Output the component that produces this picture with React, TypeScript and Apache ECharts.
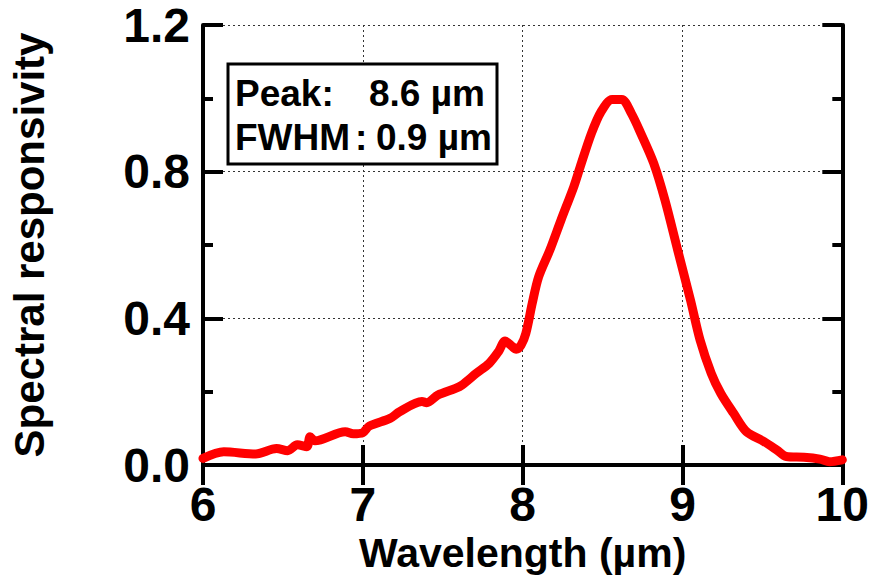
import React, { useEffect, useRef } from "react";
import * as echarts from "echarts";

const wavelength = [6.00, 6.13, 6.33, 6.46, 6.53, 6.59, 6.65, 6.67, 6.70, 6.89, 6.94, 7.00, 7.04, 7.17, 7.23, 7.37, 7.40, 7.47, 7.58, 7.62, 7.71, 7.79, 7.85, 7.89, 7.93, 7.96, 7.99, 8.02, 8.06, 8.10, 8.17, 8.24, 8.32, 8.36, 8.43, 8.49, 8.56, 8.62, 8.68, 8.74, 8.82, 8.89, 8.97, 9.05, 9.11, 9.18, 9.24, 9.32, 9.40, 9.51, 9.59, 9.65, 9.76, 9.86, 9.92, 10.0];
const responsivity = [0.018, 0.036, 0.030, 0.045, 0.039, 0.055, 0.050, 0.077, 0.066, 0.091, 0.085, 0.088, 0.106, 0.127, 0.145, 0.173, 0.170, 0.191, 0.209, 0.218, 0.250, 0.277, 0.31, 0.338, 0.325, 0.316, 0.327, 0.359, 0.441, 0.513, 0.586, 0.668, 0.759, 0.813, 0.904, 0.963, 0.997, 0.997, 0.959, 0.904, 0.823, 0.723, 0.586, 0.450, 0.341, 0.250, 0.195, 0.141, 0.091, 0.064, 0.041, 0.023, 0.021, 0.016, 0.009, 0.014];
const xTicks = [6, 7, 8, 9, 10];
const yTicks = [0.0, 0.4, 0.8, 1.2];
const annotation = { peakLabel: "Peak:", peakValue: "8.6 µm", fwhmLabel: "FWHM", fwhmValue: "0.9 µm" };

const FONT = "'Liberation Sans', Arial, sans-serif";

export default function App() {
  const ref = useRef<HTMLDivElement>(null);
  useEffect(() => {
    if (!ref.current) return;
    const chart = echarts.init(ref.current, null, { renderer: "svg" });
    const axisLine = { show: true, lineStyle: { color: "#000", width: 4 } };
    const split = { show: true, lineStyle: { color: "#333", width: 1, type: [2, 3] as any } };
    const xBase = {
      type: "value" as const,
      min: xTicks[0],
      max: xTicks[xTicks.length - 1],
      interval: 1,
      axisLine,
      axisTick: { show: true, inside: true, length: 20, lineStyle: { color: "#000", width: 4 } },
    };
    const yBase = {
      type: "value" as const,
      min: yTicks[0],
      max: yTicks[yTicks.length - 1],
      interval: 0.4,
      axisLine,
      axisTick: { show: true, inside: true, length: 20, lineStyle: { color: "#000", width: 4 } },
      minorTick: { show: true, splitNumber: 2, length: 10, lineStyle: { color: "#000", width: 4 } },
    };
    chart.setOption({
      animation: false,
      grid: { left: 202, right: 26, top: 25, bottom: 115, containLabel: false },
      xAxis: [
        {
          ...xBase,
          position: "bottom",
          splitLine: split,
          axisLabel: { show: true, margin: 15, color: "#000", fontSize: 48, fontWeight: "bold", fontFamily: FONT,
            formatter: (v: number) => String(v) },
          name: "Wavelength (µm)",
          nameLocation: "middle",
          nameGap: 66,
          nameTextStyle: { color: "#000", fontSize: 41, fontWeight: "bold", fontFamily: FONT },
        },
        { ...xBase, position: "top", splitLine: { show: false }, axisLabel: { show: false } },
      ],
      yAxis: [
        {
          ...yBase,
          position: "left",
          splitLine: split,
          axisLabel: { show: true, margin: 13, color: "#000", fontSize: 48, fontWeight: "bold", fontFamily: FONT,
            formatter: (v: number) => v.toFixed(1) },
          name: "Spectral responsivity",
          nameLocation: "middle",
          nameGap: 153,
          nameTextStyle: { color: "#000", fontSize: 42, fontWeight: "bold", fontFamily: FONT },
        },
        { ...yBase, position: "right", splitLine: { show: false }, axisLabel: { show: false } },
      ],
      series: [
        {
          type: "line",
          xAxisIndex: 0,
          yAxisIndex: 0,
          data: wavelength.map((w, i) => [w, responsivity[i]]),
          showSymbol: false,
          symbol: "none",
          smooth: 0.3,
          clip: false,
          lineStyle: { color: "#ff0000", width: 9, cap: "round", join: "round" },
          z: 5,
        },
      ],
      graphic: [
        {
          type: "rect",
          shape: { x: 228, y: 64, width: 269, height: 100 },
          style: { fill: "#fff", stroke: "#000", lineWidth: 3 },
          z: 10,
        },
        { type: "text", x: 235, y: 93, z: 11, style: { text: annotation.peakLabel, fill: "#000", font: `bold 37px ${FONT}`, textVerticalAlign: "middle" } },
        { type: "text", x: 369, y: 93, z: 11, style: { text: annotation.peakValue, fill: "#000", font: `bold 37px ${FONT}`, textVerticalAlign: "middle" } },
        { type: "text", x: 235, y: 137, z: 11, style: { text: annotation.fwhmLabel, fill: "#000", font: `bold 37px ${FONT}`, textVerticalAlign: "middle" } },
        { type: "text", x: 355, y: 137, z: 11, style: { text: ":", fill: "#000", font: `bold 37px ${FONT}`, textVerticalAlign: "middle" } },
        { type: "text", x: 376, y: 137, z: 11, style: { text: annotation.fwhmValue, fill: "#000", font: `bold 37px ${FONT}`, textVerticalAlign: "middle" } },
      ],
    });
    return () => chart.dispose();
  }, []);
  return <div ref={ref} style={{ width: 872, height: 580, position: "absolute", left: 0, top: 0, background: "#fff" }} />;
}
